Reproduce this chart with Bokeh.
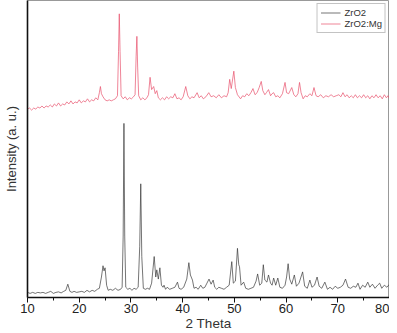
from bokeh.plotting import figure
from bokeh.models import Range1d, Legend, LegendItem, FixedTicker
from bokeh.embed import file_html
from bokeh.resources import INLINE

# 2-theta positions and intensities (a.u.)
zro2_theta = [10.0, 10.5, 11, 11.5, 12, 12.5, 13, 13.5, 14, 14.5, 15, 15.5, 16, 16.5, 17, 17.4, 17.8, 18.2, 18.6, 19, 19.5, 20, 20.5, 21, 21.5, 22, 22.5, 23, 23.5, 23.9, 24.3, 24.6, 24.8, 25.0, 25.3, 25.6, 26, 26.5, 27, 27.5, 28, 28.3, 28.5, 28.65, 28.8, 29.0, 29.4, 29.8, 30.2, 30.6, 31, 31.4, 31.7, 31.9, 32.1, 32.4, 32.8, 33.2, 33.6, 34.0, 34.5, 34.8, 35.0, 35.3, 35.6, 35.9, 36.2, 36.4, 36.7, 37, 37.5, 38, 38.5, 39.0, 39.3, 39.7, 40.2, 40.8, 41.2, 41.5, 41.9, 42.2, 42.6, 43.0, 43.5, 43.9, 44.3, 44.7, 45.1, 45.5, 45.9, 46.2, 46.6, 47, 47.5, 48, 48.5, 49, 49.5, 49.8, 50.2, 50.6, 50.85, 51.0, 51.3, 51.8, 52.2, 52.7, 53.2, 53.7, 54.2, 54.5, 54.9, 55.3, 55.6, 55.9, 56.3, 56.6, 57.0, 57.3, 57.6, 58.0, 58.4, 58.8, 59.3, 59.8, 60.1, 60.4, 60.7, 61.1, 61.6, 62.0, 62.5, 63.2, 63.6, 64.1, 64.6, 65.0, 65.5, 66.0, 66.4, 66.9, 67.5, 68, 68.5, 69, 69.5, 70, 70.5, 71.0, 71.5, 72, 72.5, 73, 73.5, 73.9, 74.3, 74.8, 75.3, 75.8, 76.2, 76.7, 77.2, 77.7, 78.1, 78.5, 79, 79.5, 80]
zro2_int = [5, 4, 5, 4, 5, 4.5, 5, 4, 5, 6, 4, 5, 5.5, 4.5, 6, 7, 13, 6, 5, 6, 5, 5.5, 6, 5, 7, 5.5, 7, 6, 8, 9, 20, 31, 26, 29, 12, 7, 8, 7, 9, 7, 8, 10, 60, 170, 60, 10, 8, 9, 7, 9, 8, 10, 50, 111, 40, 9, 8, 9, 8, 14, 40, 20, 27, 18, 29, 12, 10, 12, 8, 10, 8, 9, 10, 15, 9, 8, 10, 18, 34, 22, 17, 9, 10, 8, 12, 9, 10, 14, 18, 13, 17, 10, 8, 10, 9, 8, 10, 12, 35, 14, 16, 48, 32, 30, 12, 15, 9, 8, 9, 10, 16, 23, 12, 14, 32, 17, 15, 22, 14, 12, 19, 12, 19, 10, 9, 12, 20, 33, 18, 13, 22, 11, 14, 25, 11, 9, 17, 10, 12, 20, 11, 9, 15, 8, 10, 8, 11, 9, 10, 12, 18, 10, 9, 11, 10, 14, 8, 12, 10, 15, 10, 13, 9, 12, 14, 9, 12, 10, 13]

mg_theta = [10, 10.4, 10.8, 11.2, 11.6, 12, 12.4, 12.8, 13.2, 13.6, 14, 14.4, 14.8, 15.2, 15.6, 16, 16.4, 16.8, 17.2, 17.6, 18, 18.4, 18.8, 19.2, 19.6, 20, 20.4, 20.8, 21.2, 21.6, 22, 22.4, 22.8, 23.2, 23.6, 23.9, 24.1, 24.3, 24.6, 25, 25.4, 25.8, 26.2, 26.6, 27.0, 27.4, 27.6, 27.75, 27.9, 28.1, 28.5, 28.9, 29.3, 29.7, 30.1, 30.5, 30.8, 31.0, 31.15, 31.3, 31.5, 31.9, 32.3, 32.7, 33.1, 33.4, 33.7, 34.0, 34.4, 34.7, 35.0, 35.3, 35.7, 36.1, 36.5, 36.9, 37.3, 37.7, 38.1, 38.5, 38.9, 39.3, 39.7, 40.1, 40.6, 41.0, 41.4, 41.8, 42.2, 42.8, 43.2, 43.6, 44.0, 44.5, 45.05, 45.5, 46.0, 46.5, 47.0, 47.5, 48.0, 48.5, 48.8, 49.1, 49.4, 49.9, 50.2, 50.6, 51.2, 51.6, 52.0, 52.4, 52.8, 53.2, 53.6, 54.0, 54.4, 54.8, 55.2, 55.5, 55.9, 56.2, 56.6, 57.0, 57.3, 57.6, 58.0, 58.4, 58.8, 59.3, 59.8, 60.1, 60.5, 61.1, 61.5, 61.9, 62.3, 62.6, 62.9, 63.3, 63.7, 64.1, 64.6, 65.0, 65.4, 65.8, 66.2, 66.7, 67.2, 67.7, 68.2, 68.7, 69.2, 69.7, 70.2, 70.6, 71.0, 71.4, 71.8, 72.2, 72.6, 73.0, 73.4, 73.8, 74.2, 74.6, 75.0, 75.4, 75.8, 76.2, 76.6, 77.0, 77.4, 77.8, 78.2, 78.6, 79.0, 79.4, 79.7, 80]
mg_int = [184, 185, 183, 185, 184, 186, 185, 187, 185, 187, 186, 188, 186, 189, 187, 190, 187, 189, 188, 191, 189, 192, 189, 191, 190, 193, 190, 192, 191, 194, 191, 193, 192, 195, 193, 200, 206, 199, 196, 193, 192, 193, 192, 193, 194, 197, 240, 277, 240, 197, 194, 196, 193, 195, 194, 196, 198, 235, 255, 225, 197, 193, 195, 193, 195, 198, 215, 203, 206, 199, 202, 195, 193, 195, 193, 196, 194, 196, 195, 199, 194, 195, 193, 196, 206, 197, 194, 196, 195, 200, 195, 197, 194, 196, 200, 196, 197, 195, 198, 195, 197, 196, 200, 213, 204, 221, 205, 198, 194, 197, 196, 199, 197, 200, 204, 198, 200, 205, 211, 202, 198, 200, 203, 197, 199, 200, 196, 197, 195, 199, 210, 200, 199, 205, 198, 196, 199, 210, 200, 194, 197, 196, 199, 197, 205, 197, 196, 198, 195, 197, 196, 198, 196, 197, 198, 196, 200, 196, 198, 195, 197, 195, 198, 195, 197, 195, 198, 195, 197, 194, 197, 195, 198, 195, 197, 194, 198, 195, 197, 194]

x_ticks = [10, 20, 30, 40, 50, 60, 70, 80]

FONT = "Liberation Sans"

p = figure(width=389, height=333, output_backend="svg", toolbar_location=None,
           x_range=Range1d(10, 80), y_range=Range1d(0, 290),
           min_border_left=0, min_border_right=0, min_border_top=0, min_border_bottom=0)

r1 = p.line(zro2_theta, zro2_int, line_color="#3a3a3a", line_width=0.7)
r2 = p.line(mg_theta, mg_int, line_color="#e8506c", line_width=0.7)

p.xgrid.visible = False
p.ygrid.visible = False
p.background_fill_color = "white"
p.border_fill_color = "white"
p.outline_line_color = "#999999"
p.outline_line_width = 1

xa = p.xaxis[0]
xa.ticker = FixedTicker(ticks=x_ticks, minor_ticks=[15, 25, 35, 45, 55, 65, 75])
xa.axis_line_color = "#111111"
xa.axis_line_width = 1.3
xa.major_tick_out = 5
xa.major_tick_in = 0
xa.minor_tick_out = 3
xa.minor_tick_in = 0
xa.major_tick_line_color = "#111111"
xa.minor_tick_line_color = "#111111"
xa.major_label_text_font = FONT
xa.major_label_text_font_size = "13px"
xa.major_label_text_color = "#222222"
xa.major_label_standoff = 1
xa.axis_label = "2 Theta"
xa.axis_label_text_font = FONT
xa.axis_label_text_font_size = "13.5px"
xa.axis_label_text_font_style = "normal"
xa.axis_label_text_color = "#333333"
xa.axis_label_standoff = 0

ya = p.yaxis[0]
ya.ticker = FixedTicker(ticks=[])
ya.major_tick_line_color = None
ya.minor_tick_line_color = None
ya.axis_line_color = "#111111"
ya.axis_line_width = 1.6
ya.axis_label = "Intensity (a. u.)"
ya.axis_label_text_font = FONT
ya.axis_label_text_font_size = "13px"
ya.axis_label_text_font_style = "normal"
ya.axis_label_text_color = "#333333"
ya.axis_label_standoff = 9

legend = Legend(items=[LegendItem(label="ZrO2", renderers=[r1]),
                       LegendItem(label="ZrO2:Mg", renderers=[r2])],
                location="top_right")
legend.label_text_font = FONT
legend.label_text_font_size = "9.5px"
legend.label_text_color = "#333333"
legend.glyph_width = 20
legend.glyph_height = 9
legend.label_height = 9
legend.label_standoff = 4
legend.spacing = 0
legend.padding = 3
legend.margin = 3
legend.border_line_color = "#888888"
legend.border_line_width = 1
legend.background_fill_alpha = 1
p.add_layout(legend)

open("out.html", "w").write(file_html(p, INLINE))
